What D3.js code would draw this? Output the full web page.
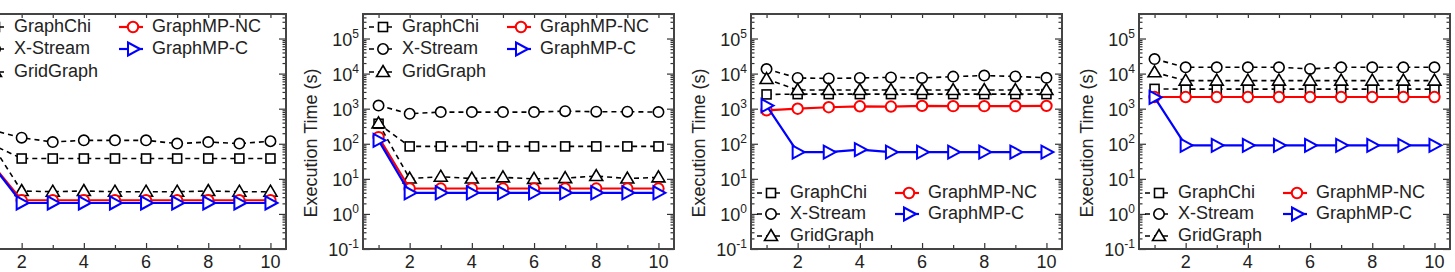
<!DOCTYPE html>
<html>
<head>
<meta charset="utf-8">
<script src="https://d3js.org/d3.v7.min.js"></script>
<style>
  body { margin: 0; background: #fff; }
  svg { display: block; font-family: "Liberation Sans", Arial, sans-serif; }
</style>
</head>
<body>
<script>
// iterations on the x axis
const iters = [1, 2, 3, 4, 5, 6, 7, 8, 9, 10];
const xLabels = [2, 4, 6, 8, 10];
const yMajor = [-1, 0, 1, 2, 3, 4, 5]; // exponents of 10
const names = ['GraphChi', 'X-Stream', 'GridGraph', 'GraphMP-NC', 'GraphMP-C'];

// panel 1
const chi1 = [99, 38, 38, 38, 38, 38, 38, 38, 38, 38];
const xs1 = [250, 149, 112, 125, 125, 125, 101, 112, 101, 118];
const grid1 = [110, 4.5, 4.3, 4.5, 4.3, 4.3, 4.3, 4.5, 4.3, 4.3];
const nc1 = [30, 2.45, 2.45, 2.45, 2.45, 2.45, 2.45, 2.45, 2.45, 2.45];
const c1 = [29, 2.05, 2.05, 2.05, 2.05, 2.05, 2.05, 2.05, 2.05, 2.05];
// panel 2
const chi2 = [372, 84, 84, 84, 84, 84, 84, 84, 84, 84];
const xs2 = [1230, 716, 800, 800, 800, 800, 850, 820, 820, 800];
const grid2 = [380, 10.2, 11.5, 10.2, 11, 10, 10.5, 12, 10.2, 11];
const nc2 = [155, 5.3, 5.3, 5.3, 5.3, 5.3, 5.3, 5.3, 5.3, 5.3];
const c2 = [125, 4.0, 4.0, 4.0, 4.0, 4.0, 4.0, 4.0, 4.0, 4.0];
// panel 3
const chi3 = [2550, 2600, 2600, 2600, 2600, 2600, 2600, 2600, 2600, 2600];
const xs3 = [13500, 7500, 7300, 7500, 7800, 7500, 8200, 8800, 8300, 7600];
const grid3 = [7000, 3400, 3400, 3400, 3400, 3400, 3400, 3400, 3400, 3400];
const nc3 = [900, 1000, 1100, 1170, 1150, 1200, 1180, 1180, 1180, 1200];
const c3 = [1230, 58, 58, 68, 58, 58, 58, 58, 58, 58];
// panel 4
const chi4 = [3670, 3600, 3600, 3600, 3600, 3600, 3600, 3600, 3600, 3600];
const xs4 = [26000, 15100, 15100, 15100, 15100, 13600, 15100, 15100, 15100, 15100];
const grid4 = [10900, 6300, 6300, 6300, 6300, 6300, 6300, 6300, 6300, 6300];
const nc4 = [2150, 2150, 2150, 2150, 2150, 2150, 2150, 2150, 2150, 2150];
const c4 = [2100, 90, 90, 90, 90, 90, 90, 90, 90, 90];

const panels = [
  [chi1, xs1, grid1, nc1, c1],
  [chi2, xs2, grid2, nc2, c2],
  [chi3, xs3, grid3, nc3, c3],
  [chi4, xs4, grid4, nc4, c4]
];
const legendTop = [true, true, false, false];

const width = 1455, height = 272;
// first panel is cropped on the left in the original figure
const panelLeft = [-25, 363, 751, 1139];
const pw = 311, plotTop = 14, plotBottom = 249;

const styles = [
  { color: '#000', dash: '5,4', shape: 'square', w: 1.6 },
  { color: '#000', dash: '5,4', shape: 'circle', w: 1.6 },
  { color: '#000', dash: '5,4', shape: 'tri', w: 1.6 },
  { color: '#ff0000', dash: null, shape: 'circle', w: 2.2 },
  { color: '#0000ff', dash: null, shape: 'rtri', w: 2.2 }
];

const svg = d3.select('body').append('svg')
  .attr('width', width)
  .attr('height', height);

const x = d3.scaleLinear().domain([0.5, 10.5]).range([0, pw]);
const y = d3.scaleLog().domain([0.1, 5e5]).range([plotBottom, plotTop]);

let yMinor = [];
yMajor.forEach(e => { for (let k = 2; k <= 9; k++) { const v = k * Math.pow(10, e); if (v <= 5e5) yMinor.push(v); } });

function marker(g, shape, cx, cy, color) {
  if (shape === 'square') {
    g.append('rect').attr('x', cx - 4.5).attr('y', cy - 4.5).attr('width', 9).attr('height', 9)
      .attr('fill', '#fff').attr('stroke', color).attr('stroke-width', 1.6);
  } else if (shape === 'circle') {
    g.append('circle').attr('cx', cx).attr('cy', cy).attr('r', 5.2)
      .attr('fill', '#fff').attr('stroke', color).attr('stroke-width', color === '#000' ? 1.6 : 2);
  } else if (shape === 'tri') {
    g.append('path').attr('d', `M${cx},${cy - 6.5}L${cx + 6.5},${cy + 4.5}L${cx - 6.5},${cy + 4.5}Z`)
      .attr('fill', '#fff').attr('stroke', color).attr('stroke-width', 1.6);
  } else {
    g.append('path').attr('d', `M${cx + 7},${cy}L${cx - 5},${cy - 6.5}L${cx - 5},${cy + 6.5}Z`)
      .attr('fill', '#fff').attr('stroke', color).attr('stroke-width', 2);
  }
}

panels.forEach((series, p) => {
  const g = svg.append('g').attr('transform', `translate(${panelLeft[p]},0)`);

  // ticks, all inward
  g.append('g').attr('transform', `translate(0,${plotBottom})`)
    .call(d3.axisBottom(x).tickValues(xLabels).tickSize(-6).tickFormat(''));
  g.append('g').attr('transform', `translate(0,${plotBottom})`)
    .call(d3.axisBottom(x).tickValues([1, 3, 5, 7, 9]).tickSize(-4).tickFormat(''));
  g.append('g').attr('transform', `translate(0,${plotTop})`)
    .call(d3.axisTop(x).tickValues(iters).tickSize(-4).tickFormat(''));
  g.append('g').call(d3.axisLeft(y).tickValues(yMajor.map(e => Math.pow(10, e))).tickSize(-7).tickFormat(''));
  g.append('g').call(d3.axisLeft(y).tickValues(yMinor).tickSize(-3.5).tickFormat(''));
  g.append('g').attr('transform', `translate(${pw},0)`)
    .call(d3.axisRight(y).tickValues(yMajor.map(e => Math.pow(10, e))).tickSize(-7).tickFormat(''));
  g.append('g').attr('transform', `translate(${pw},0)`)
    .call(d3.axisRight(y).tickValues(yMinor).tickSize(-3.5).tickFormat(''));
  g.selectAll('.domain').remove();
  g.selectAll('.tick line').attr('stroke', '#333').attr('stroke-width', 1.2);

  g.append('rect').attr('x', 0).attr('y', plotTop).attr('width', pw).attr('height', plotBottom - plotTop)
    .attr('fill', 'none').attr('stroke', '#444').attr('stroke-width', 2);

  // tick labels
  xLabels.forEach(v => {
    g.append('text').attr('x', x(v)).attr('y', plotBottom + 19).attr('text-anchor', 'middle')
      .attr('font-size', 18).attr('fill', '#222').text(v);
  });
  // y labels and title of the cropped first panel fall outside the picture
  if (panelLeft[p] > 0) {
    yMajor.forEach(e => {
      const t = g.append('text').attr('x', -4).attr('y', y(Math.pow(10, e)) + 7)
        .attr('text-anchor', 'end').attr('font-size', 18).attr('fill', '#222');
      t.append('tspan').text('10');
      t.append('tspan').attr('dy', -8).attr('font-size', 12).text(e);
    });

    g.append('text').attr('transform', `translate(-51,143) rotate(-90)`)
      .attr('text-anchor', 'middle').attr('dominant-baseline', 'middle')
      .attr('font-size', 18).attr('fill', '#222').text('Execution Time (s)');
  }

  // lines and markers
  const line = d3.line().x((d, i) => x(iters[i])).y(d => y(d));
  series.forEach((vals, s) => {
    const st = styles[s];
    g.append('path').datum(vals).attr('d', line).attr('fill', 'none')
      .attr('stroke', st.color).attr('stroke-width', st.w)
      .attr('stroke-dasharray', st.dash);
    vals.forEach((v, i) => marker(g, st.shape, x(iters[i]), y(v), st.color));
  });

  // legend
  const rows = legendTop[p] ? [plotTop + 13, plotTop + 35, plotTop + 58] : [plotBottom - 56, plotBottom - 35, plotBottom - 13];
  names.forEach((n, s) => {
    const st = styles[s];
    const col = s < 3 ? 0 : 1;
    const ry = rows[col === 0 ? s : s - 3];
    const lx = col === 0 ? 6 : 144;
    g.append('line').attr('x1', lx).attr('x2', lx + 24).attr('y1', ry).attr('y2', ry)
      .attr('stroke', st.color).attr('stroke-width', st.w)
      .attr('stroke-dasharray', st.dash);
    marker(g, st.shape, lx + 14, ry, st.color);
    g.append('text').attr('x', lx + 33).attr('y', ry).attr('dominant-baseline', 'middle')
      .attr('font-size', 18).attr('fill', '#222').text(n);
  });
});
</script>
</body>
</html>
